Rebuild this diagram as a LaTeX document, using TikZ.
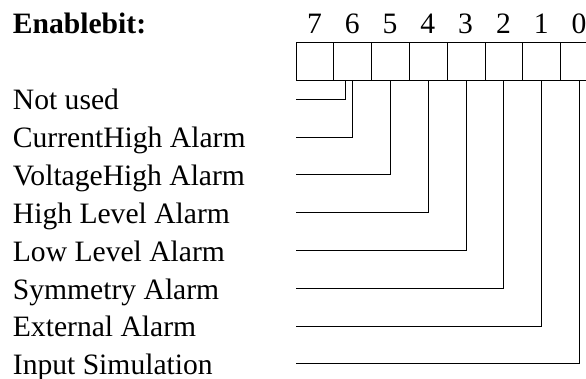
\documentclass[tikz,border=0pt]{standalone}
\usepackage{fontspec}
\setmainfont{Liberation Serif}
\begin{document}
\begin{tikzpicture}[x=1pt,y=-1pt,
  cell/.style={draw, line width=1pt, minimum width=37.8pt, minimum height=38.3pt, inner sep=0pt, outer sep=0pt},
  lbl/.style={anchor=base west, inner sep=0pt, font=\fontsize{29.6}{35}\selectfont},
  dig/.style={anchor=base, inner sep=0pt, font=\fontsize{29.6}{35}\selectfont},
  wire/.style={line width=1pt}]
\useasboundingbox (0,0) rectangle (586,379);
\clip (0,0) rectangle (586,379);
\node[lbl, font=\fontsize{29.6}{35}\selectfont\bfseries] (title) at (12.7,33.3) {Enablebit:};
\foreach \k in {7,...,0}{
  \node[cell] (c\k) at ({296+37.8*(7-\k)+18.9},61.85) {};
  \node[dig] (d\k) at ({296+37.8*(7-\k)+18.4},33.3) {\k};
}
\foreach \i/\t in {0/Not used,1/CurrentHigh Alarm,2/VoltageHigh Alarm,3/High Level Alarm,4/Low Level Alarm,5/Symmetry Alarm,6/External Alarm,7/Input Simulation}{
  \node[lbl] (l\i) at (12.7,{110+37.8*\i}) {\t};
  \coordinate (e\i) at (296,{99.3+37.8*\i});
}
\draw[wire] ([xshift=-7.4pt]c6.south) |- (e0);
\draw[wire] (c6.south) |- (e1);
\draw[wire] (c5.south) |- (e2);
\draw[wire] (c4.south) |- (e3);
\draw[wire] (c3.south) |- (e4);
\draw[wire] (c2.south) |- (e5);
\draw[wire] (c1.south) |- (e6);
\draw[wire] (c0.south) |- (e7);
\end{tikzpicture}
\end{document}
